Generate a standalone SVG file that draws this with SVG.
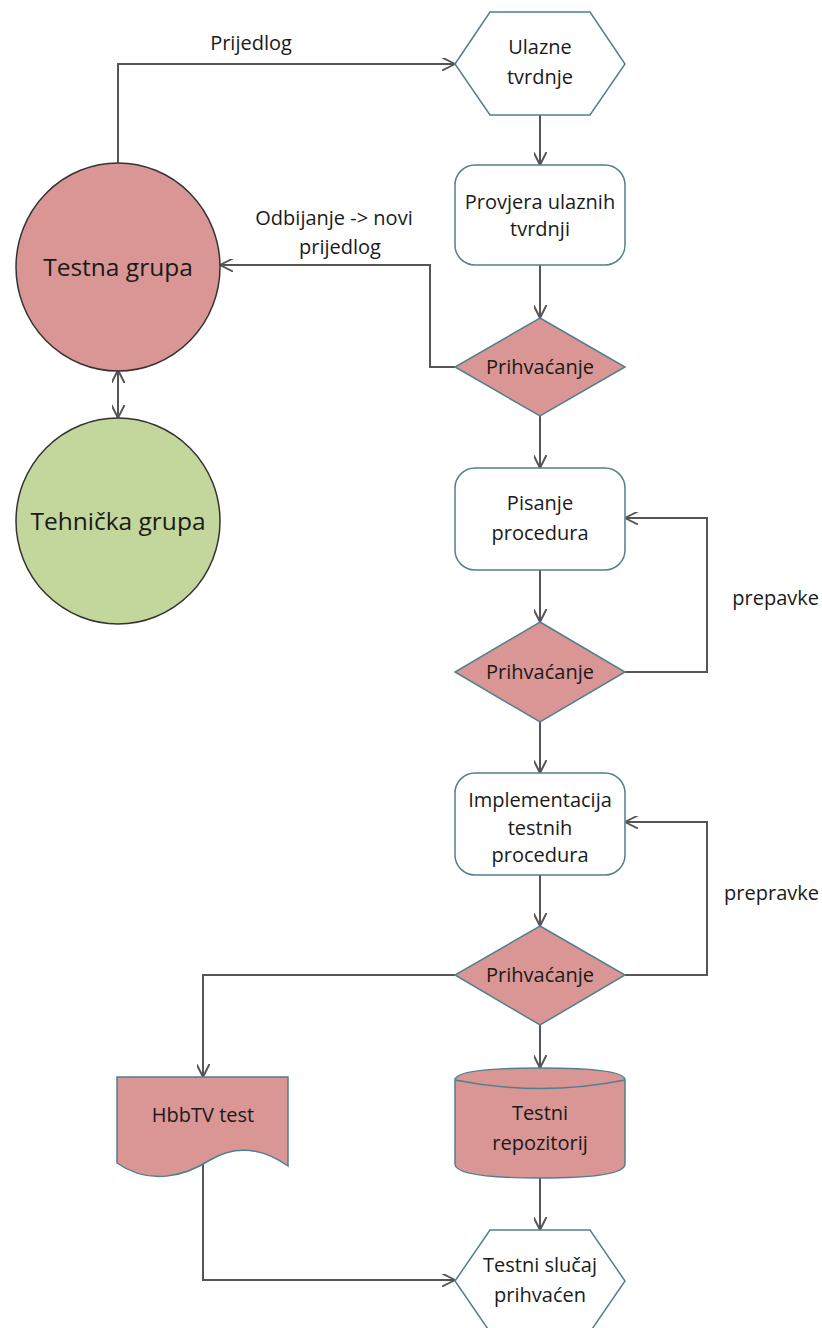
<svg xmlns="http://www.w3.org/2000/svg" width="822" height="1328" viewBox="0 0 822 1328">
<style>
text{font-family:"Open Sans","Liberation Sans",sans-serif;fill:#1a1a1a;text-anchor:middle;font-size:20px}
.big{font-size:24.5px}
.box{fill:#ffffff;stroke:#4f8090;stroke-width:1.5}
.red{fill:#d99694;stroke:#4f8090;stroke-width:1.5}
.circ{stroke:#333;stroke-width:1.5}
.con{fill:none;stroke:#555;stroke-width:2;marker-end:url(#ah)}
.end{text-anchor:end}
</style>
<defs>
<marker id="ah" viewBox="0 0 10 10" refX="10" refY="5" markerWidth="13" markerHeight="13" markerUnits="userSpaceOnUse" orient="auto-start-reverse">
<path d="M0,0 L10,5 L0,10" fill="none" stroke="#555" stroke-width="1.5"/>
</marker>
</defs>
<rect width="822" height="1328" fill="#fff"/>
<g id="connectors">
<path class="con" d="M118,163 V64 H455"/>
<path class="con" d="M540,115 V165"/>
<path class="con" d="M540,265 V318"/>
<path class="con" d="M455,367 H430 V265 H220"/>
<path class="con" d="M118,370 V418" style="marker-start:url(#ah)"/>
<path class="con" d="M540,416 V468"/>
<path class="con" d="M540,570 V622"/>
<path class="con" d="M625,672 H707 V518 H625"/>
<path class="con" d="M540,722 V773"/>
<path class="con" d="M540,875 V926"/>
<path class="con" d="M625,975 H707 V822 H625"/>
<path class="con" d="M455,975 H203 V1077"/>
<path class="con" d="M540,1025 V1068"/>
<path class="con" d="M540,1178 V1230"/>
<path class="con" d="M203,1163 V1280 H455"/>
<text x="251" y="50">Prijedlog</text>
<text x="334" y="225">Odbijanje -&gt; novi</text>
<text x="340" y="254">prijedlog</text>
<text class="end" x="819" y="605">prepavke</text>
<text class="end" x="819" y="900">prepravke</text>
</g>
<g id="ulazne">
<polygon class="box" points="455,64 490,12 590,12 625,64 590,115 490,115"/>
<text x="540" y="54">Ulazne</text>
<text x="540" y="84">tvrdnje</text>
</g>
<g id="testna">
<ellipse class="circ" cx="118" cy="267" rx="102" ry="104" fill="#d99694"/>
<text class="big" x="118" y="276">Testna grupa</text>
</g>
<g id="tehnicka">
<ellipse class="circ" cx="118" cy="521" rx="102" ry="103" fill="#c3d69b"/>
<text class="big" x="118" y="530">Tehnička grupa</text>
</g>
<g id="provjera">
<rect class="box" x="455" y="165" width="170" height="100" rx="20"/>
<text x="540" y="209">Provjera ulaznih</text>
<text x="540" y="236">tvrdnji</text>
</g>
<g id="prihvacanje1">
<polygon class="red" points="540,318 625,367 540,416 455,367"/>
<text x="540" y="374">Prihvaćanje</text>
</g>
<g id="pisanje">
<rect class="box" x="455" y="468" width="170" height="102" rx="20"/>
<text x="540" y="510">Pisanje</text>
<text x="540" y="540">procedura</text>
</g>
<g id="prihvacanje2">
<polygon class="red" points="540,622 625,672 540,722 455,672"/>
<text x="540" y="679">Prihvaćanje</text>
</g>
<g id="implementacija">
<rect class="box" x="455" y="773" width="170" height="102" rx="20"/>
<text x="540" y="807">Implementacija</text>
<text x="540" y="835">testnih</text>
<text x="540" y="862">procedura</text>
</g>
<g id="prihvacanje3">
<polygon class="red" points="540,926 625,975 540,1025 455,975"/>
<text x="540" y="982">Prihvaćanje</text>
</g>
<g id="hbbtv">
<path class="red" d="M117,1077 H288 V1166 C262,1148 235,1145 210,1160 C185,1176 150,1186 117,1163 Z"/>
<text x="203" y="1122">HbbTV test</text>
</g>
<g id="repozitorij">
<path class="red" d="M455,1080 Q455,1068 540,1068 Q625,1068 625,1080 V1164 Q625,1178 540,1178 Q455,1178 455,1164 Z"/>
<path fill="none" stroke="#4f8090" stroke-width="1.5" d="M455,1080 Q540,1097 625,1080"/>
<text x="540" y="1120">Testni</text>
<text x="540" y="1150">repozitorij</text>
</g>
<g id="prihvacen">
<polygon class="box" points="455,1281 490,1230 590,1230 625,1281 590,1332 490,1332"/>
<text x="540" y="1272">Testni slučaj</text>
<text x="540" y="1302">prihvaćen</text>
</g>
</svg>
